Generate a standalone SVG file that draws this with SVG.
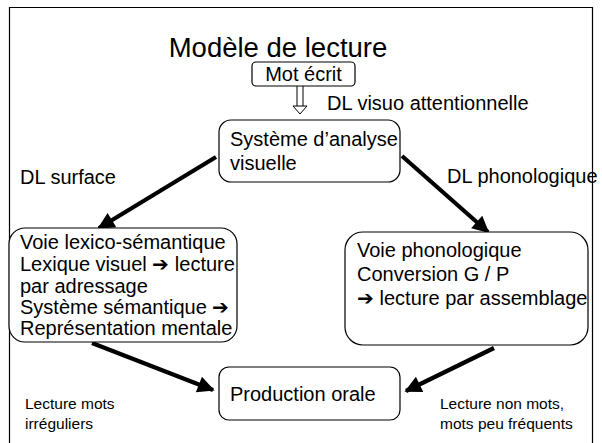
<svg xmlns="http://www.w3.org/2000/svg" width="602" height="443" viewBox="0 0 602 443">
<defs>
<style>
text{font-family:"Liberation Sans",Arial,sans-serif;fill:#000}
.t{font-size:20px}
.s{font-size:15.5px}
.box{fill:#fff;stroke:#000;stroke-width:1.2}
.arr{stroke:#000;stroke-width:4.2;fill:none;marker-end:url(#ah)}
</style>
<marker id="ah" viewBox="0 0 10 10" refX="9" refY="5" markerWidth="5" markerHeight="4" orient="auto" markerUnits="strokeWidth">
<path d="M0,0 L10,5 L0,10 z" fill="#000"/>
</marker>
</defs>
<rect x="0" y="0" width="602" height="443" fill="#fff"/>
<path d="M9.5,443 V7.5 H592.5 V443" fill="none" stroke="#000" stroke-width="1.2"/>
<text x="278" y="57" font-size="27.5" text-anchor="middle">Modèle de lecture</text>
<g id="connectors">
<path d="M297,86 V106 M303,86 V106 M293,106 L300,114 L307,106 z" fill="#fff" stroke="#000" stroke-width="1"/>
<line class="arr" x1="216" y1="157" x2="99" y2="228"/>
<line class="arr" x1="402" y1="156" x2="488" y2="232"/>
<line class="arr" x1="92" y1="343" x2="213" y2="390"/>
<line class="arr" x1="494" y1="348" x2="406" y2="391"/>
</g>
<g id="mot">
<rect class="box" x="252" y="62" width="103" height="24" rx="4"/>
<text class="t" x="303.5" y="81" text-anchor="middle">Mot écrit</text>
</g>
<text class="t" x="327" y="110" font-size="20.5">DL visuo attentionnelle</text>
<g id="analyse">
<rect class="box" x="219" y="120" width="181" height="62" rx="12"/>
<text class="t" x="230" y="146">Système d’analyse</text>
<text class="t" x="230" y="170">visuelle</text>
</g>
<text class="t" x="20" y="184">DL surface</text>
<text class="t" x="447" y="183">DL phonologique</text>
<g id="lexico">
<rect class="box" x="9" y="228" width="228" height="114" rx="16"/>
<text class="t" x="20" y="249">Voie lexico-sémantique</text>
<text class="t" x="20" y="271">Lexique visuel ➔ lecture</text>
<text class="t" x="20" y="293">par adressage</text>
<text class="t" x="20" y="314">Système sémantique ➔</text>
<text class="t" x="20" y="335">Représentation mentale</text>
</g>
<g id="phono">
<rect class="box" x="345" y="232" width="243" height="113" rx="18"/>
<text class="t" x="357" y="257">Voie phonologique</text>
<text class="t" x="357" y="281">Conversion G / P</text>
<text class="t" x="357" y="305">➔ lecture par assemblage</text>
</g>
<g id="production">
<rect class="box" x="219" y="367" width="181" height="53" rx="10"/>
<text class="t" x="230" y="401">Production orale</text>
</g>
<text class="s" x="25" y="409">Lecture mots</text>
<text class="s" x="25" y="429">irréguliers</text>
<text class="s" x="440" y="409">Lecture non mots,</text>
<text class="s" x="440" y="429">mots peu fréquents</text>
</svg>
